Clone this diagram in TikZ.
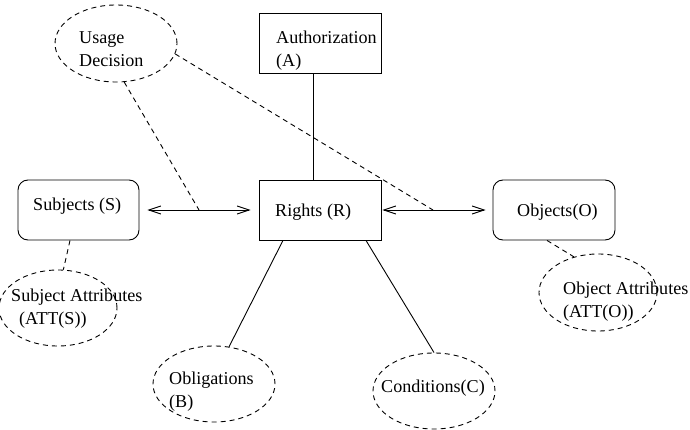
\documentclass[tikz,border=0pt]{standalone}
\usepackage{fontspec}
\setmainfont{Liberation Serif}
\usetikzlibrary{shapes.geometric,arrows.meta}
\begin{document}
\begin{tikzpicture}[x=1pt,y=-1pt,
  every node/.style={font=\fontsize{18.1}{23}\selectfont},
  lw/.style={line width=0.9pt},
  dsh/.style={lw,dash pattern=on 5pt off 4pt},
  sqbox/.style={draw,lw,rectangle,minimum width=122pt,minimum height=60pt,inner sep=0pt},
  rbox/.style={sqbox,rounded corners=10pt},
  ell/.style={draw,dsh,ellipse,inner sep=0pt},
  txt/.style={anchor=base west,inner sep=0pt,align=left},
  arr/.style={lw,{Straight Barb[length=12pt,width=8pt]}-{Straight Barb[length=12pt,width=8pt]}}
]
\useasboundingbox (0,0) rectangle (690,430);
% boxes
\node[sqbox] (auth) at (320,43) {};
\node[sqbox] (rights) at (320,210) {};
\node[rbox,minimum width=121pt] (subj) at (78.5,210) {};
\node[rbox] (obj) at (554,210) {};
% ellipses
\node[ell,minimum width=122pt,minimum height=77pt] (ud) at (116,43.5) {};
\node[ell,minimum width=118pt,minimum height=76pt] (sa) at (58,308) {};
\node[ell,minimum width=122pt,minimum height=76pt] (ob) at (214,384) {};
\node[ell,minimum width=122pt,minimum height=76pt] (co) at (434,391) {};
\node[ell,minimum width=118pt,minimum height=77pt] (oa) at (598,292.5) {};
% texts (two-line nodes: base = baseline of last line)
\node[txt] (udt) at (79,67) {Usage\\Decision};
\node[txt] (autht) at (276,67) {Authorization\\(A)};
\node[txt] (rightst) at (275,217) {Rights (R)};
\node[txt] (subjt) at (33,211) {Subjects (S)};
\node[txt] (objt) at (517,217) {Objects(O)};
\node[txt] (sat) at (11,324) {Subject Attributes\\\hspace*{8pt}(ATT(S))};
\node[txt] (obt) at (169,407) {Obligations\\(B)};
\node[txt] (cot) at (381,392) {Conditions(C)};
\node[txt] (oat) at (563,317) {Object Attributes\\(ATT(O))};
% connectors
\draw[arr,shorten <=8pt,shorten >=8pt] (subj.east) -- (rights.west);
\draw[arr,shorten <=1pt,shorten >=7pt] (rights.east) -- (obj.west);
\coordinate (m1) at (199,210);
\coordinate (m2) at (433,210);
\draw[dsh] (ud.-78) -- (m1);
\draw[dsh] (ud.-10) -- (m2);
\draw[lw] ([xshift=-7pt]auth.south) -- ([xshift=-7pt]rights.north);
\draw[lw] ([xshift=-37pt]rights.south) -- (ob.68);
\draw[lw] ([xshift=46pt]rights.south) -- (co.north);
\draw[dsh] ([xshift=-8.5pt]subj.south) -- (sa.82);
\draw[dsh] ([xshift=-7pt]obj.south) -- (oa.124);
\end{tikzpicture}
\end{document}
